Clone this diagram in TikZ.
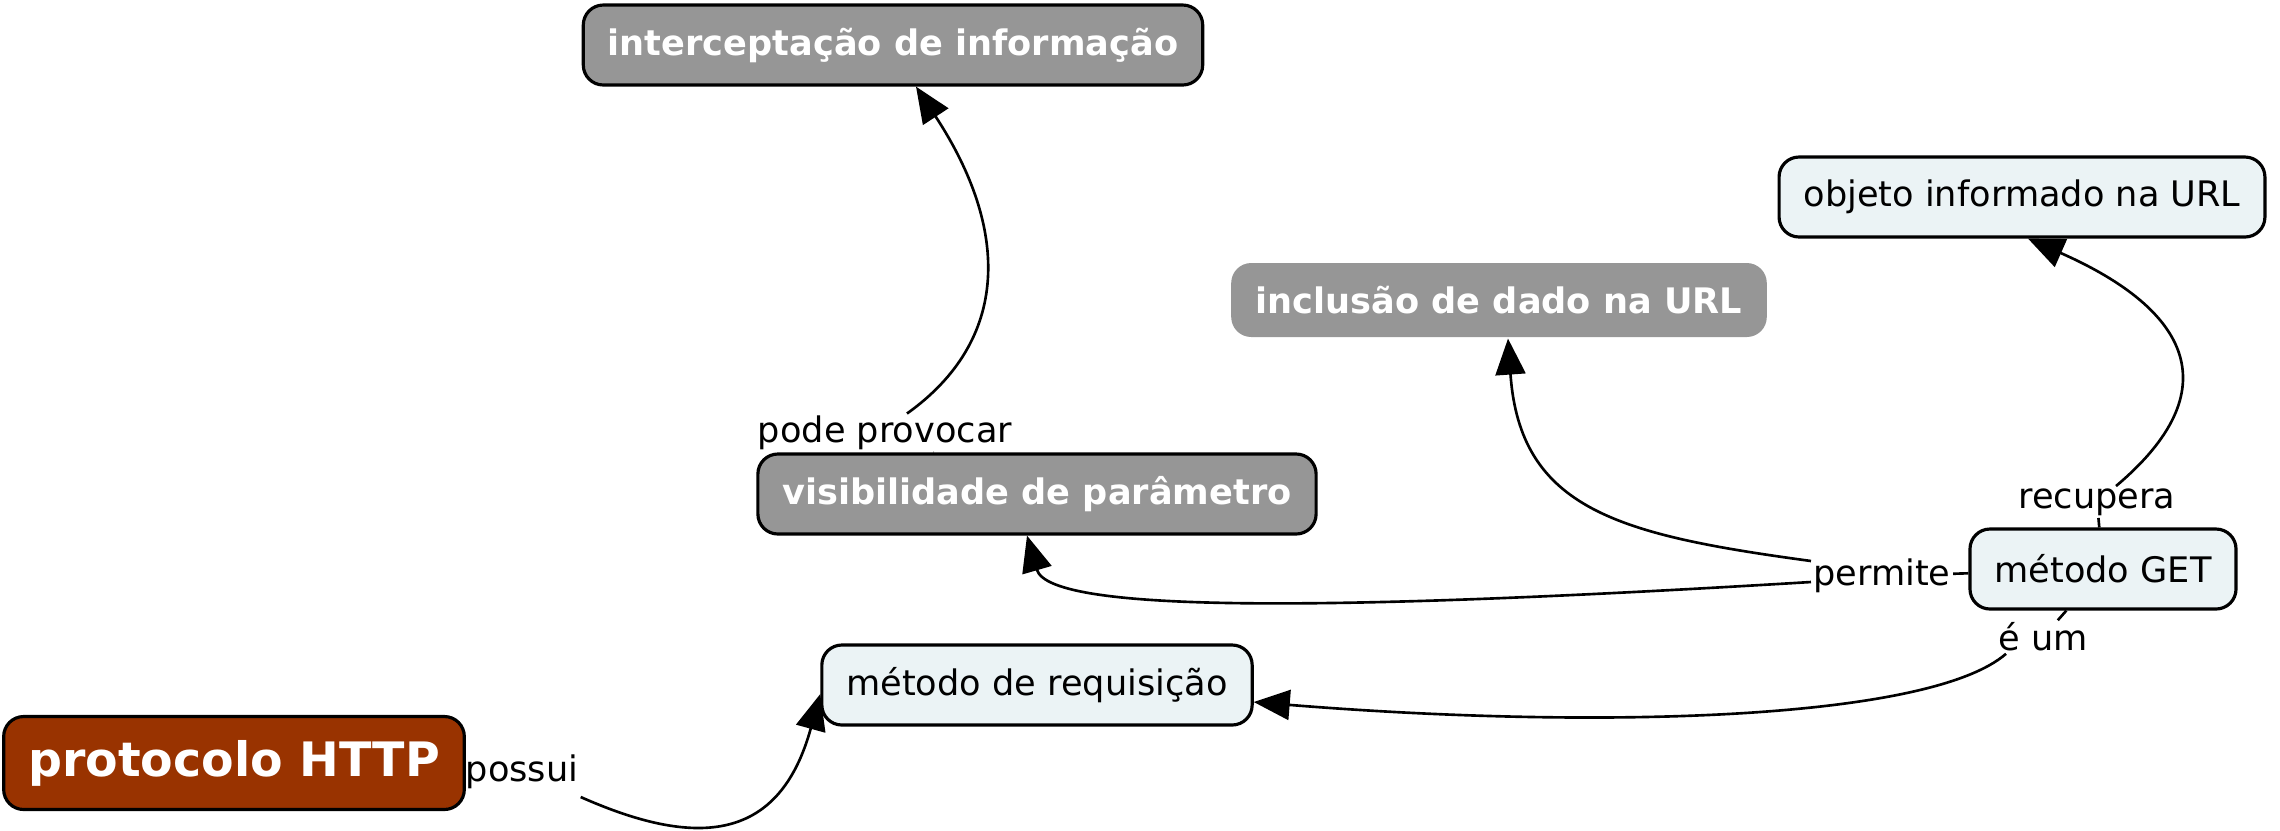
\documentclass[tikz,border=0pt]{standalone}
\usepackage{fontspec}
\setmainfont{DejaVu Sans}
\usetikzlibrary{arrows.meta}
\definecolor{cgray}{RGB}{150,150,150}
\definecolor{clight}{RGB}{235,243,245}
\definecolor{cbrown}{RGB}{153,51,0}
\tikzset{
  concept/.style={draw=black,line width=0.9pt,rounded corners=0.2cm,fill=clight,
    inner xsep=0.245cm,minimum height=0.8cm,font=\fontsize{10}{12}\selectfont},
  grayconcept/.style={concept,fill=cgray,text=white,font=\fontsize{10}{12}\selectfont\bfseries},
  linkword/.style={inner sep=0.5pt,font=\fontsize{10}{12}\selectfont},
  conn/.style={line width=0.75pt},
  arr/.style={conn,-{Triangle[length=3.6mm,width=3mm]}}
}
\begin{document}
\begin{tikzpicture}
\useasboundingbox (0,0) rectangle (22.8,-8.3);
% concepts
\node[grayconcept] (icpt) at (8.93,-0.45) {interceptação de informação};
\node[grayconcept,draw=none,minimum height=0.74cm] (incl) at (14.99,-3.00) {inclusão de dado na URL};
\node[concept] (obj) at (20.22,-1.97) {objeto informado na URL};
\node[grayconcept] (vis) at (10.37,-4.94) {visibilidade de parâmetro};
\node[concept] (get) at (21.03,-5.69) {método GET};
\node[concept] (req) at (10.37,-6.85) {método de requisição};
\node[concept,fill=cbrown,text=white,minimum height=0.93cm,
  font=\fontsize{13.5}{16}\selectfont\bfseries] (http) at (2.34,-7.63) {protocolo HTTP};
% linking phrases
\node[linkword] (pp) at (8.85,-4.33) {pode provocar};
\node[linkword] (perm) at (18.82,-5.76) {permite};
\node[linkword] (recu) at (20.97,-5.02) {recupera};
\node[linkword] (eum) at (20.43,-6.37) {é um};
\node[linkword] (poss) at (5.22,-7.72) {possui};
% connectors
\draw[conn] (vis) -- (pp);
\draw[conn] (get) -- (perm);
\draw[conn] (get) -- (recu);
\draw[conn] (get) -- (eum);
\draw[conn] (http) -- (poss);
\draw[arr] ([xshift=2.2mm]pp.north) .. controls (10.1,-3.4) and (10.1,-2.3) .. ([xshift=2.3mm]icpt.south);
\draw[arr] ([yshift=1.5mm]perm.west) .. controls (16.2,-5.35) and (15.2,-5.1) .. ([xshift=0.9mm]incl.south);
\draw[arr] ([yshift=-0.6mm]perm.west) .. controls (13.5,-6.1) and (10.5,-6.15) .. ([xshift=-1mm]vis.south);
\draw[arr] ([xshift=1.9mm]recu.north) .. controls (22.3,-3.9) and (21.9,-3.1) .. ([xshift=0.6mm]obj.south);
\draw[arr] ([xshift=-3.7mm]eum.south) .. controls (19.3,-7.2) and (16.0,-7.3) .. ([yshift=-1.7mm]req.east);
\draw[arr] ([yshift=-2.5mm]poss.east) .. controls (7.0,-8.5) and (7.8,-8.4) .. ([yshift=-0.9mm]req.west);
\end{tikzpicture}
\end{document}
